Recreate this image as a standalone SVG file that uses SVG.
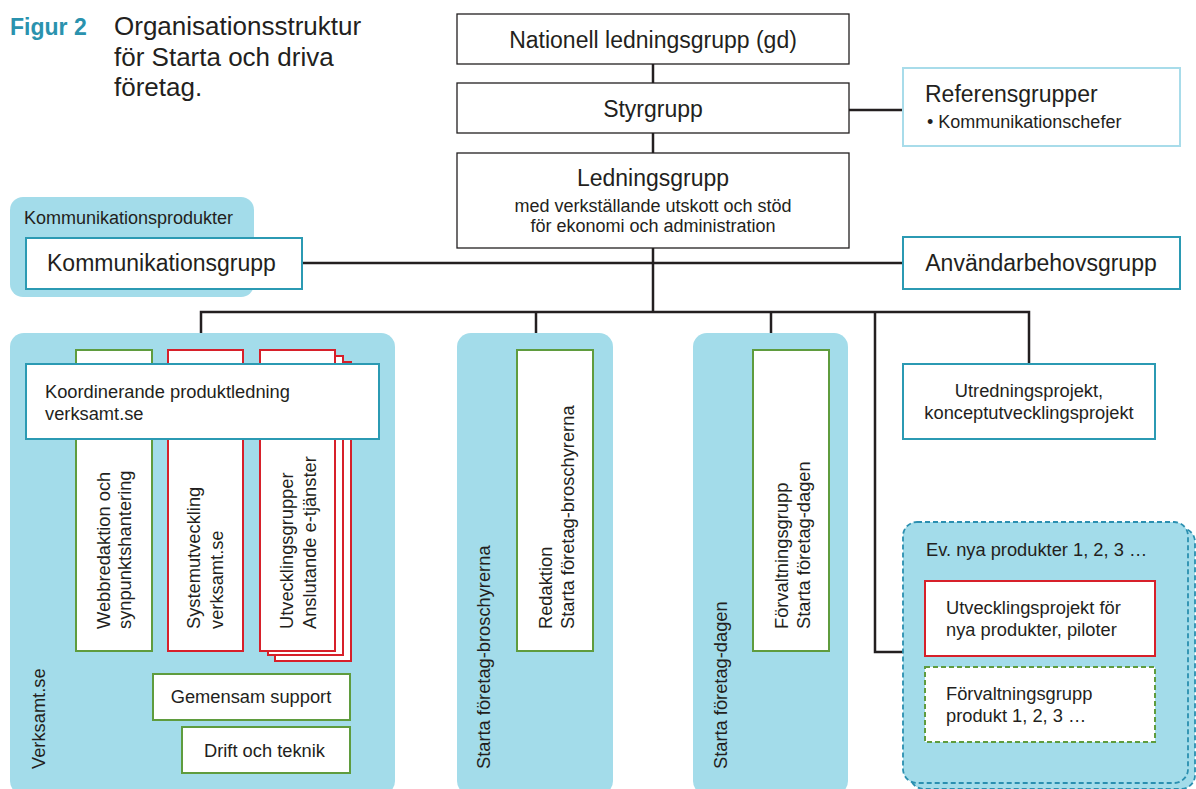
<svg xmlns="http://www.w3.org/2000/svg" width="1196" height="789" viewBox="0 0 1196 789">
<style>
text{font-family:"Liberation Sans",Arial,sans-serif;fill:#231f20}
.blob{fill:#a3dcea}
.box{fill:#fff;stroke:#2b9ab3;stroke-width:2}
.lbox{fill:#fff;stroke:#a8dcea;stroke-width:2}
.gbox{fill:#fff;stroke:#5f9c3e;stroke-width:2}
.rbox{fill:#fff;stroke:#d7202a;stroke-width:2}
.kbox{fill:#fff;stroke:#231f20;stroke-width:1.3}
.conn{fill:none;stroke:#231f20;stroke-width:2.5}
.t20{font-size:23px}
.t17{font-size:18.3px}
.t15{font-size:18px}
.c{text-anchor:middle}
</style>

<g id="title">
<text x="10" y="35" style="font-size:23px;font-weight:bold;fill:#2a92ae">Figur 2</text>
<text x="114" y="35" style="font-size:26px">Organisationsstruktur</text>
<text x="114" y="66" style="font-size:26px">för Starta och driva</text>
<text x="114" y="96" style="font-size:26px">företag.</text>
</g>

<g id="connectors">
<line class="conn" x1="653" y1="64" x2="653" y2="83"/>
<line class="conn" x1="653" y1="133" x2="653" y2="153"/>
<line class="conn" x1="849" y1="110" x2="903" y2="110"/>
<line class="conn" x1="653" y1="248" x2="653" y2="312"/>
<line class="conn" x1="302" y1="263" x2="903" y2="263"/>
<polyline class="conn" points="201,333 201,312 1029,312 1029,364"/>
<line class="conn" x1="536" y1="312" x2="536" y2="333"/>
<line class="conn" x1="771" y1="312" x2="771" y2="333"/>
<polyline class="conn" points="875,312 875,652 903,652"/>
</g>

<g id="nationell">
<rect class="kbox" x="457" y="14" width="392" height="50"/>
<text class="t20 c" x="653" y="48">Nationell ledningsgrupp (gd)</text>
</g>
<g id="styrgrupp">
<rect class="kbox" x="457" y="83" width="392" height="50"/>
<text class="t20 c" x="653" y="117">Styrgrupp</text>
</g>
<g id="ledningsgrupp">
<rect class="kbox" x="457" y="153" width="392" height="95"/>
<text class="t20 c" x="653" y="186">Ledningsgrupp</text>
<text class="t15 c" x="653" y="212">med verkställande utskott och stöd</text>
<text class="t15 c" x="653" y="232">för ekonomi och administration</text>
</g>
<g id="referensgrupper">
<rect class="lbox" x="903" y="68" width="277" height="78"/>
<text class="t20" x="925" y="102">Referensgrupper</text>
<text class="t15" x="927" y="128">• Kommunikationschefer</text>
</g>

<g id="kommunikationsprodukter">
<rect class="blob" x="10" y="197" width="244" height="100" rx="13"/>
<text class="t15" x="24" y="224">Kommunikationsprodukter</text>
</g>
<g id="kommunikationsgrupp">
<rect class="box" x="26" y="238" width="276" height="51"/>
<text class="t20" x="47" y="271">Kommunikationsgrupp</text>
</g>
<g id="anvandarbehovsgrupp">
<rect class="box" x="903" y="237" width="277" height="52"/>
<text class="t20 c" x="1041" y="271">Användarbehovsgrupp</text>
</g>

<g id="verksamt">
<rect class="blob" x="10" y="333" width="385" height="462" rx="14"/>
<text class="t17" transform="translate(45,769) rotate(-90)">Verksamt.se</text>
</g>
<g id="webbredaktion">
<rect class="gbox" x="76" y="350" width="76" height="301"/>
<text class="t17" transform="translate(110,629) rotate(-90)">Webbredaktion och<tspan x="0" dy="21">synpunktshantering</tspan></text>
</g>
<g id="systemutveckling">
<rect class="rbox" x="168" y="350" width="75" height="301"/>
<text class="t17" transform="translate(200,629) rotate(-90)">Systemutveckling<tspan x="0" dy="23">verksamt.se</tspan></text>
</g>
<g id="utvecklingsgrupper">
<rect class="rbox" x="275" y="362" width="76" height="299"/>
<rect class="rbox" x="268" y="356" width="75" height="299"/>
<rect class="rbox" x="260" y="350" width="75" height="301"/>
<text class="t17" transform="translate(293,629) rotate(-90)">Utvecklingsgrupper<tspan x="0" dy="23">Anslutande e-tjänster</tspan></text>
</g>
<g id="koordinerande">
<rect class="box" x="26" y="364" width="353" height="75"/>
<text class="t17" x="45" y="398">Koordinerande produktledning</text>
<text class="t17" x="45" y="420">verksamt.se</text>
</g>
<g id="gemensam">
<rect class="gbox" x="153" y="674" width="197" height="46"/>
<text class="t17 c" x="251" y="703">Gemensam support</text>
</g>
<g id="drift">
<rect class="gbox" x="182" y="727" width="168" height="46"/>
<text class="t17" x="204" y="757">Drift och teknik</text>
</g>

<g id="broschyrer">
<rect class="blob" x="457" y="333" width="156" height="462" rx="14"/>
<text class="t17" transform="translate(490,769) rotate(-90)">Starta företag-broschyrerna</text>
</g>
<g id="redaktion">
<rect class="gbox" x="517" y="350" width="76" height="301"/>
<text class="t17" transform="translate(552,629) rotate(-90)">Redaktion<tspan x="0" dy="22">Starta företag-broschyrerna</tspan></text>
</g>

<g id="dagen">
<rect class="blob" x="693" y="333" width="155" height="462" rx="14"/>
<text class="t17" transform="translate(727,769) rotate(-90)">Starta företag-dagen</text>
</g>
<g id="forvaltningsgrupp-dagen">
<rect class="gbox" x="753" y="350" width="76" height="301"/>
<text class="t17" transform="translate(788,629) rotate(-90)">Förvaltningsgrupp<tspan x="0" dy="22">Starta företag-dagen</tspan></text>
</g>

<g id="utredningsprojekt">
<rect class="box" x="903" y="364" width="252" height="75"/>
<text class="t17 c" x="1029" y="397">Utredningsprojekt,</text>
<text class="t17 c" x="1029" y="419">konceptutvecklingsprojekt</text>
</g>

<g id="nya-produkter">
<rect x="910" y="528" width="285" height="261" rx="14" style="fill:#a3dcea;stroke:#2b8fb0;stroke-width:1.8;stroke-dasharray:5 3"/>
<rect x="903" y="522" width="285" height="261" rx="14" style="fill:#a3dcea;stroke:#2b8fb0;stroke-width:1.8;stroke-dasharray:5 3"/>
<text class="t17" x="926" y="556">Ev. nya produkter 1, 2, 3 …</text>
</g>
<g id="utvecklingsprojekt">
<rect class="rbox" x="925" y="581" width="230" height="75"/>
<text class="t17" x="946" y="614">Utvecklingsprojekt för</text>
<text class="t17" x="946" y="636">nya produkter, piloter</text>
</g>
<g id="forvaltningsgrupp-produkt">
<rect x="925" y="667" width="230" height="75" style="fill:#fff;stroke:#5f9c3e;stroke-width:2;stroke-dasharray:5 3"/>
<text class="t17" x="946" y="700">Förvaltningsgrupp</text>
<text class="t17" x="946" y="722">produkt 1, 2, 3 …</text>
</g>
</svg>
